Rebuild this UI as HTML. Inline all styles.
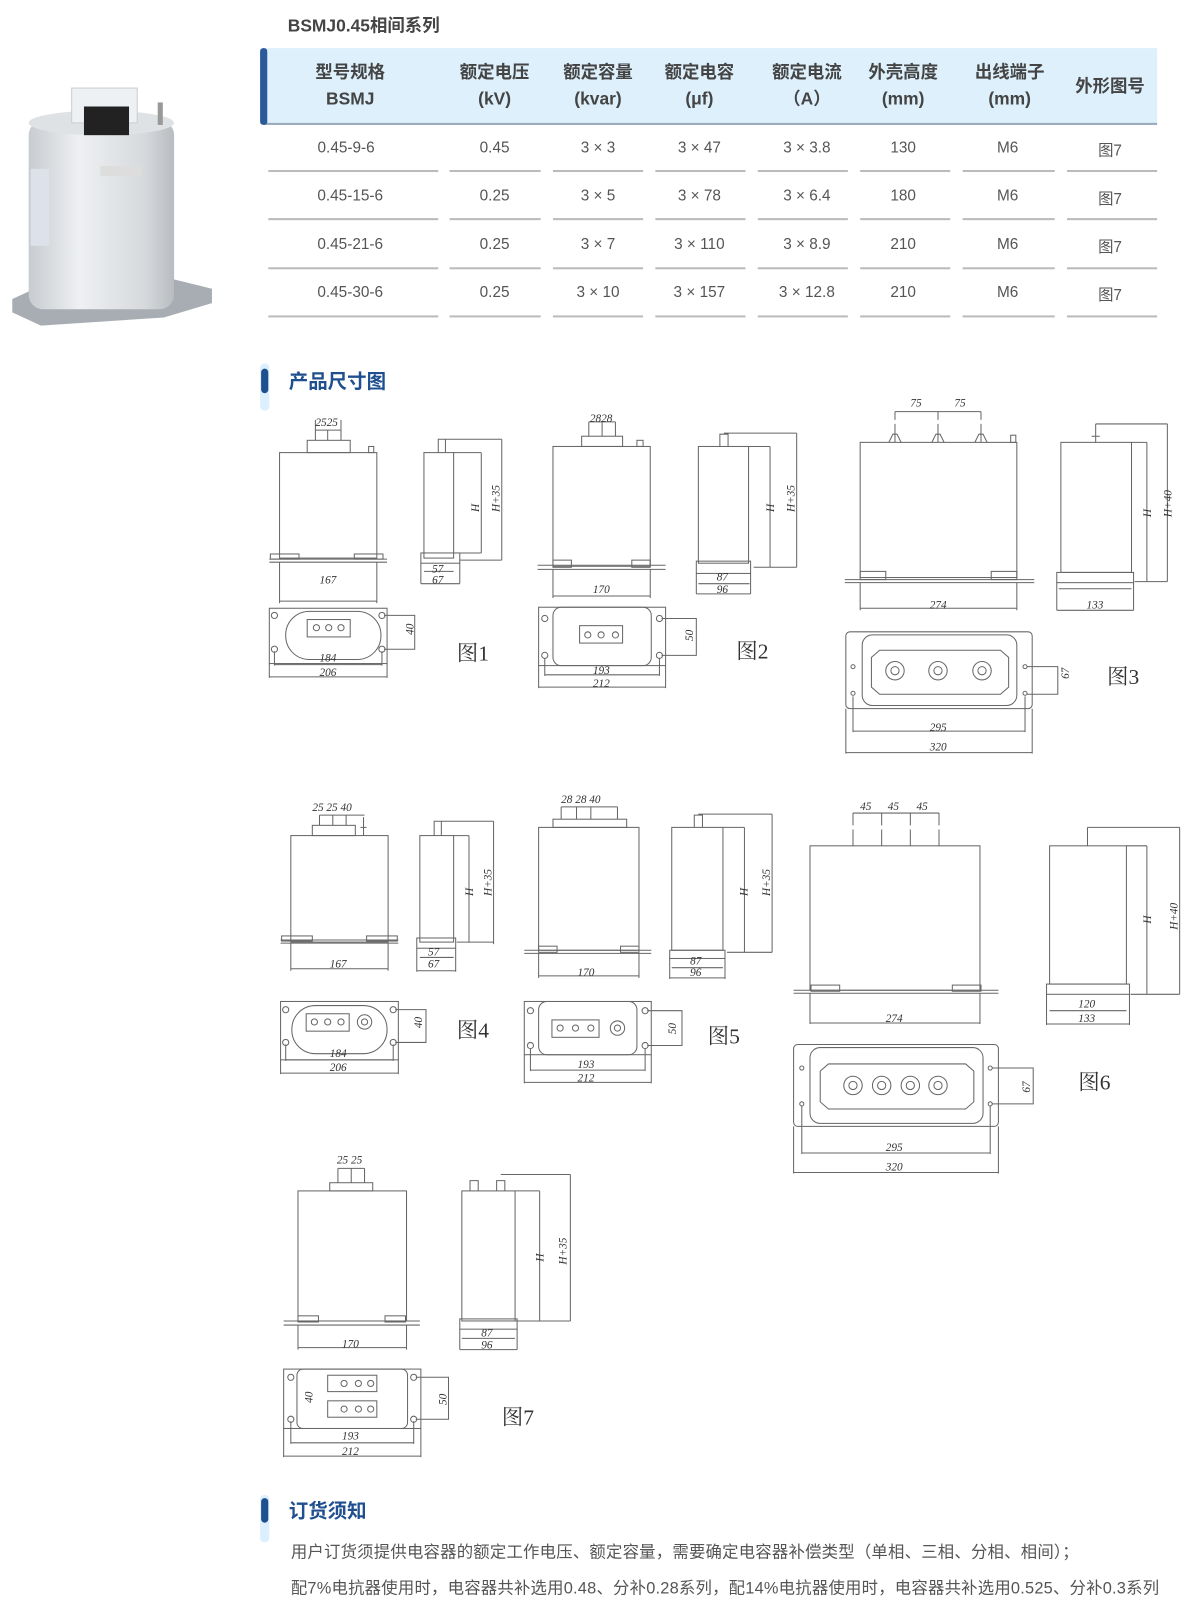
<!DOCTYPE html>
<html><head><meta charset="utf-8">
<style>
body{margin:0;background:#fff;}
#o{width:1200px;height:1606px;overflow:hidden;position:relative;}
#p{position:absolute;left:0;top:0;width:1172px;height:1568px;transform:scale(1.024);transform-origin:0 0;font-family:"Liberation Sans","Noto Sans CJK SC",sans-serif;}
.a{position:absolute;}
.th{position:absolute;top:58px;width:110px;text-align:center;font-weight:bold;font-size:17px;color:#444;line-height:26px;}
.td{position:absolute;width:110px;text-align:center;font-size:15px;color:#555;}
.ln{position:absolute;height:2px;background:#bbb;}
.sec{position:absolute;left:282px;font-size:19px;font-weight:bold;color:#1f4f8f;}
.bar{position:absolute;left:255px;width:7px;height:24px;background:#1f4f8f;border-radius:4px;}
.bar2{position:absolute;left:254px;width:9px;height:46px;background:#dcefff;border-radius:4px;}
.tx{position:absolute;left:284px;font-size:16px;letter-spacing:0.2px;color:#555;white-space:nowrap;}
svg text{font-family:"Liberation Serif",serif;font-style:italic;font-size:11px;fill:#333;}
svg text.f{font-style:normal;font-size:21px;font-family:"Liberation Serif","Noto Serif CJK SC",serif;}
</style></head><body><div id="o"><div id="p">
<div class="a" style="left:281px;top:11px;font-size:17px;font-weight:bold;color:#444">BSMJ0.45相间系列</div>
<div class="a" style="left:258px;top:47px;width:872px;height:73px;background:#ddf0fb;border-bottom:2px solid #9ab"></div>
<div class="a" style="left:254px;top:47px;width:7px;height:75px;background:#2a5a9a;border-radius:3px"></div>
<div class="th" style="left:287px">型号规格<br>BSMJ</div>
<div class="th" style="left:428px">额定电压<br>(kV)</div>
<div class="th" style="left:529px">额定容量<br>(kvar)</div>
<div class="th" style="left:628px">额定电容<br>(μf)</div>
<div class="th" style="left:733px">额定电流<br>（A）</div>
<div class="th" style="left:827px">外壳高度<br>(mm)</div>
<div class="th" style="left:931px">出线端子<br>(mm)</div>
<div class="th" style="left:1029px;top:72px">外形图号</div>

<div class="td" style="left:283px;top:136px">0.45-9-6</div><div class="td" style="left:428px;top:136px">0.45</div><div class="td" style="left:529px;top:136px">3 × 3</div><div class="td" style="left:628px;top:136px">3 × 47</div><div class="td" style="left:733px;top:136px">3 × 3.8</div><div class="td" style="left:827px;top:136px">130</div><div class="td" style="left:929px;top:136px">M6</div><div class="td" style="left:1029px;top:136px">图7</div>
<div class="td" style="left:287px;top:183px">0.45-15-6</div><div class="td" style="left:428px;top:183px">0.25</div><div class="td" style="left:529px;top:183px">3 × 5</div><div class="td" style="left:628px;top:183px">3 × 78</div><div class="td" style="left:733px;top:183px">3 × 6.4</div><div class="td" style="left:827px;top:183px">180</div><div class="td" style="left:929px;top:183px">M6</div><div class="td" style="left:1029px;top:183px">图7</div>
<div class="td" style="left:287px;top:230px">0.45-21-6</div><div class="td" style="left:428px;top:230px">0.25</div><div class="td" style="left:529px;top:230px">3 × 7</div><div class="td" style="left:628px;top:230px">3 × 110</div><div class="td" style="left:733px;top:230px">3 × 8.9</div><div class="td" style="left:827px;top:230px">210</div><div class="td" style="left:929px;top:230px">M6</div><div class="td" style="left:1029px;top:230px">图7</div>
<div class="td" style="left:287px;top:277px">0.45-30-6</div><div class="td" style="left:428px;top:277px">0.25</div><div class="td" style="left:529px;top:277px">3 × 10</div><div class="td" style="left:628px;top:277px">3 × 157</div><div class="td" style="left:733px;top:277px">3 × 12.8</div><div class="td" style="left:827px;top:277px">210</div><div class="td" style="left:929px;top:277px">M6</div><div class="td" style="left:1029px;top:277px">图7</div>

<div class="ln" style="left:262px;width:166px;top:166px"></div><div class="ln" style="left:439px;width:89px;top:166px"></div><div class="ln" style="left:540px;width:88px;top:166px"></div><div class="ln" style="left:640px;width:88px;top:166px"></div><div class="ln" style="left:740px;width:88px;top:166px"></div><div class="ln" style="left:840px;width:88px;top:166px"></div><div class="ln" style="left:940px;width:90px;top:166px"></div><div class="ln" style="left:1042px;width:88px;top:166px"></div>
<div class="ln" style="left:262px;width:166px;top:213px"></div><div class="ln" style="left:439px;width:89px;top:213px"></div><div class="ln" style="left:540px;width:88px;top:213px"></div><div class="ln" style="left:640px;width:88px;top:213px"></div><div class="ln" style="left:740px;width:88px;top:213px"></div><div class="ln" style="left:840px;width:88px;top:213px"></div><div class="ln" style="left:940px;width:90px;top:213px"></div><div class="ln" style="left:1042px;width:88px;top:213px"></div>
<div class="ln" style="left:262px;width:166px;top:261px"></div><div class="ln" style="left:439px;width:89px;top:261px"></div><div class="ln" style="left:540px;width:88px;top:261px"></div><div class="ln" style="left:640px;width:88px;top:261px"></div><div class="ln" style="left:740px;width:88px;top:261px"></div><div class="ln" style="left:840px;width:88px;top:261px"></div><div class="ln" style="left:940px;width:90px;top:261px"></div><div class="ln" style="left:1042px;width:88px;top:261px"></div>
<div class="ln" style="left:262px;width:166px;top:308px"></div><div class="ln" style="left:439px;width:89px;top:308px"></div><div class="ln" style="left:540px;width:88px;top:308px"></div><div class="ln" style="left:640px;width:88px;top:308px"></div><div class="ln" style="left:740px;width:88px;top:308px"></div><div class="ln" style="left:840px;width:88px;top:308px"></div><div class="ln" style="left:940px;width:90px;top:308px"></div><div class="ln" style="left:1042px;width:88px;top:308px"></div>

<svg class="a" style="left:0;top:0" width="230" height="330">
<defs><linearGradient id="g" x1="0" x2="1"><stop offset="0" stop-color="#c8ccd0"/><stop offset="0.35" stop-color="#eef0f2"/><stop offset="0.8" stop-color="#d6d9dc"/><stop offset="1" stop-color="#b8bcc0"/></linearGradient></defs>
<polygon points="12,292 60,270 150,268 207,282 207,296 160,310 40,318 12,305" fill="#a8adb3"/>
<rect x="28" y="118" width="142" height="184" rx="14" fill="url(#g)"/>
<ellipse cx="99" cy="120" rx="71" ry="12" fill="#dfe2e5"/>
<rect x="70" y="86" width="64" height="34" fill="#eef1f4" stroke="#ccc"/>
<rect x="82" y="104" width="44" height="28" fill="#222"/>
<rect x="154" y="100" width="5" height="22" fill="#999"/>
<rect x="30" y="165" width="18" height="75" fill="#dde2ea"/>
<rect x="98" y="162" width="40" height="10" fill="#ddd"/>
</svg>

<div class="bar2" style="top:355px"></div><div class="bar" style="top:360px"></div>
<div class="sec" style="top:358px">产品尺寸图</div>
<div class="bar2" style="top:1460px"></div><div class="bar" style="top:1463px"></div>
<div class="sec" style="top:1461px">订货须知</div>
<div class="tx" style="top:1502px">用户订货须提供电容器的额定工作电压、额定容量，需要确定电容器补偿类型（单相、三相、分相、相间）；</div>
<div class="tx" style="top:1537px">配7%电抗器使用时，电容器共补选用0.48、分补0.28系列，配14%电抗器使用时，电容器共补选用0.525、分补0.3系列</div>

<svg class="a" style="left:0;top:0" width="1200" height="1606" fill="none" stroke="#666" stroke-width="1">
<rect x="273" y="442" width="95" height="103"/><rect x="300" y="430" width="42" height="12"/>
<path d="M308 430v-10M320 430v-10M333 430v-10M308 420h25M308 410v10M333 410v10"/><rect x="360" y="436" width="5" height="6"/>
<path d="M263 546h115M263 549h115M273 549v40M368 549v40M273 587h95"/>
<rect x="264" y="541" width="28" height="5"/><rect x="346" y="541" width="28" height="5"/>
<rect x="414" y="442" width="29" height="103"/><path d="M428 442v-13h7v13M435 429h55M443 442h27M470 442v98M490 429v118M449 540h21M449 547h41"/>
<rect x="411" y="540" width="38" height="10"/><path d="M411 550v20M449 550v20M414 558h29M411 570h38"/>
<rect x="263" y="594" width="115" height="54"/><rect x="279" y="597" width="93" height="47" rx="23"/>
<rect x="300" y="605" width="42" height="17"/><circle cx="309" cy="613" r="3"/><circle cx="321" cy="613" r="3"/><circle cx="333" cy="613" r="3"/>
<circle cx="268" cy="601" r="3"/><circle cx="268" cy="634" r="3"/><circle cx="373" cy="601" r="3"/><circle cx="373" cy="634" r="3"/>
<path d="M375 601h30v33h-30M268 636v14M373 636v14M268 649h105M263 648v14M378 648v14M263 661h115"/>
<rect x="540" y="436" width="95" height="117"/><rect x="568" y="426" width="40" height="10"/>
<path d="M575 426v-14M588 426v-14M601 426v-14M575 412h26"/><rect x="622" y="430" width="6" height="6"/>
<path d="M525 552h125M525 556h125M540 556v28M635 556v28M540 582h95"/>
<rect x="540" y="547" width="18" height="7"/><rect x="617" y="547" width="18" height="7"/>
<rect x="682" y="436" width="49" height="114"/><path d="M703 436v-12h8v12M707 423h71M731 436h21M752 436v118M778 423v131M736 554h42"/>
<rect x="680" y="548" width="53" height="12"/><path d="M680 560v20M733 560v20M682 570h50M680 580h53"/>
<rect x="526" y="593" width="124" height="57"/><rect x="540" y="593" width="96" height="57" rx="8"/>
<rect x="566" y="611" width="42" height="17"/><circle cx="574" cy="620" r="3"/><circle cx="587" cy="620" r="3"/><circle cx="601" cy="620" r="3"/>
<circle cx="532" cy="604" r="3"/><circle cx="532" cy="640" r="3"/><circle cx="644" cy="604" r="3"/><circle cx="644" cy="640" r="3"/>
<path d="M646 604h34v36h-34M532 643v17M644 643v17M532 659h112M526 650v22M650 650v22M526 671h124"/>
<rect x="840" y="432" width="153" height="132"/>
<path d="M874 432v-18M916 432v-18M958 432v-18M874 410v-8M916 410v-8M958 410v-8M874 402h84M868 432l4-8h4l4 8M910 432l4-8h4l4 8M952 432l4-8h4l4 8"/>
<rect x="987" y="425" width="5" height="7"/>
<path d="M825 566h185M825 569h185M840 569v27M993 569v27M840 594h153"/>
<rect x="840" y="558" width="25" height="8"/><rect x="968" y="558" width="25" height="8"/>
<rect x="1036" y="432" width="69" height="127"/><path d="M1070 432v-18M1066 426h8M1070 414h70M1105 432h15M1120 432v136M1140 414v154M1108 568h32"/>
<rect x="1032" y="559" width="75" height="10"/><path d="M1032 569v27M1107 569v27M1034 575h71M1032 596h75"/>
<rect x="826" y="617" width="182" height="75" rx="4"/><rect x="842" y="620" width="151" height="69" rx="10"/>
<path d="M851 642l8 -7h118l8 7v29l-8 7h-118l-8-7z"/>
<circle cx="874" cy="655" r="9"/><circle cx="874" cy="655" r="4"/><circle cx="916" cy="655" r="9"/><circle cx="916" cy="655" r="4"/><circle cx="959" cy="655" r="9"/><circle cx="959" cy="655" r="4"/>
<circle cx="833" cy="651" r="2"/><circle cx="833" cy="677" r="2"/><circle cx="1001" cy="651" r="2"/><circle cx="1001" cy="677" r="2"/>
<path d="M1003 651h30v27h-30M833 680v35M1001 680v35M833 714h168M826 692v44M1008 692v44M826 735h182"/>
<rect x="284" y="816" width="95" height="104"/><rect x="305" y="806" width="42" height="10"/>
<path d="M312 806v-10M325 806v-10M338 806v-10M312 796h44M355 816v-18M352 808h6"/>
<path d="M274 918h115M274 921h115M284 921v27M379 921v27M284 946h95"/>
<rect x="275" y="914" width="30" height="5"/><rect x="358" y="914" width="30" height="5"/>
<rect x="410" y="816" width="33" height="104"/><path d="M424 816v-14h7v14M427 802h55M443 816h15M458 816v104M482 802v120M446 920h36"/>
<rect x="407" y="916" width="38" height="10"/><path d="M407 926v23M445 926v23M410 935h33M407 948h38"/>
<rect x="274" y="978" width="115" height="57"/><rect x="285" y="982" width="93" height="47" rx="23"/>
<rect x="299" y="990" width="42" height="17"/><circle cx="307" cy="998" r="3"/><circle cx="320" cy="998" r="3"/><circle cx="333" cy="998" r="3"/><circle cx="356" cy="998" r="7"/><circle cx="356" cy="998" r="3"/>
<circle cx="279" cy="986" r="3"/><circle cx="279" cy="1018" r="3"/><circle cx="384" cy="986" r="3"/><circle cx="384" cy="1018" r="3"/>
<path d="M386 986h30v32h-30M279 1020v16M384 1020v16M279 1035h105M274 1035v14M389 1035v14M274 1048h115"/>
<rect x="526" y="808" width="98" height="120"/><rect x="540" y="800" width="72" height="8"/>
<path d="M548 800v-12M563 800v-12M577 800v-12M548 788h55M603 800v-12"/>
<path d="M512 928h124M512 931h124M526 931v24M624 931v24M526 953h98"/>
<rect x="526" y="924" width="18" height="6"/><rect x="606" y="924" width="18" height="6"/>
<rect x="656" y="808" width="50" height="120"/><path d="M678 808v-12h8v12M682 795h72M706 808h21M727 808v122M754 795v135M710 930h44"/>
<rect x="654" y="928" width="54" height="8"/><path d="M654 936v20M708 936v20M656 945h50M654 955h54"/>
<rect x="512" y="978" width="124" height="52"/><rect x="526" y="978" width="96" height="52" rx="8"/>
<rect x="539" y="996" width="46" height="17"/><circle cx="547" cy="1004" r="3"/><circle cx="562" cy="1004" r="3"/><circle cx="577" cy="1004" r="3"/><circle cx="603" cy="1004" r="7"/><circle cx="603" cy="1004" r="3"/>
<circle cx="518" cy="987" r="3"/><circle cx="518" cy="1021" r="3"/><circle cx="630" cy="987" r="3"/><circle cx="630" cy="1021" r="3"/>
<path d="M632 987h34v34h-34M518 1024v22M630 1024v22M518 1045h112M512 1030v28M636 1030v28M512 1057h124"/>
<rect x="791" y="826" width="166" height="141"/>
<path d="M833 826v-16M861 826v-16M889 826v-16M917 826v-16M833 806v-12M861 806v-12M889 806v-12M917 806v-12M833 794h84"/>
<path d="M775 967h200M775 970h200M791 970v30M957 970v30M791 999h166"/>
<rect x="792" y="962" width="28" height="6"/><rect x="930" y="962" width="28" height="6"/>
<rect x="1025" y="826" width="75" height="135"/><path d="M1062 826v-18M1062 808h90M1100 826h20M1120 826v145M1152 808v163M1104 971h48"/>
<rect x="1022" y="961" width="81" height="10"/><path d="M1022 971v30M1103 971v30M1025 987h75M1022 1000h81"/>
<rect x="775" y="1020" width="200" height="80" rx="4"/><rect x="791" y="1023" width="169" height="74" rx="10"/>
<path d="M801 1046l8-7h134l8 7v30l-8 7h-134l-8-7z"/>
<circle cx="833" cy="1060" r="9"/><circle cx="833" cy="1060" r="4"/><circle cx="861" cy="1060" r="9"/><circle cx="861" cy="1060" r="4"/><circle cx="889" cy="1060" r="9"/><circle cx="889" cy="1060" r="4"/><circle cx="916" cy="1060" r="9"/><circle cx="916" cy="1060" r="4"/>
<circle cx="783" cy="1043" r="2"/><circle cx="783" cy="1078" r="2"/><circle cx="967" cy="1043" r="2"/><circle cx="967" cy="1078" r="2"/>
<path d="M969 1043h40v35h-40M783 1080v47M967 1080v47M783 1126h184M775 1100v46M975 1100v46M775 1145h200"/>
<rect x="291" y="1163" width="106" height="127"/><rect x="322" y="1155" width="42" height="8"/>
<path d="M330 1155v-14M343 1155v-14M356 1155v-14M330 1141h26"/>
<path d="M277 1290h133M277 1294h133M291 1294v24M397 1294v24M291 1316h106"/>
<rect x="291" y="1285" width="20" height="6"/><rect x="376" y="1285" width="20" height="6"/>
<rect x="451" y="1163" width="52" height="127"/><path d="M459 1163v-10h8v10M485 1163v-10h8v10M489 1147h68M503 1163h24M527 1163v127M557 1147v143M503 1290h54"/>
<rect x="449" y="1288" width="56" height="10"/><path d="M449 1298v20M505 1298v20M451 1307h52M449 1318h56"/>
<rect x="277" y="1337" width="134" height="58"/><rect x="290" y="1337" width="108" height="58" rx="6"/>
<rect x="320" y="1343" width="48" height="16"/><rect x="320" y="1368" width="48" height="16"/>
<circle cx="336" cy="1351" r="3"/><circle cx="350" cy="1351" r="3"/><circle cx="362" cy="1351" r="3"/><circle cx="336" cy="1376" r="3"/><circle cx="350" cy="1376" r="3"/><circle cx="362" cy="1376" r="3"/>
<circle cx="284" cy="1345" r="3"/><circle cx="284" cy="1386" r="3"/><circle cx="404" cy="1345" r="3"/><circle cx="404" cy="1386" r="3"/>
<path d="M406 1345h32v41h-32M284 1388v22M404 1388v22M284 1409h120M277 1395v28M411 1395v28M277 1422h134"/>
<g stroke="none">
<text x="308" y="416">2525</text><text x="312" y="570">167</text><text x="422" y="559">57</text><text x="422" y="570">67</text>
<text x="312" y="646">184</text><text x="312" y="660">206</text>
<text x="468" y="500" transform="rotate(-90 468 500)">H</text><text x="488" y="500" transform="rotate(-90 488 500)">H+35</text>
<text x="404" y="620" transform="rotate(-90 404 620)">40</text><text class="f" x="446" y="645">图1</text>
<text x="576" y="412">2828</text><text x="579" y="579">170</text><text x="700" y="567">87</text><text x="700" y="579">96</text>
<text x="579" y="658">193</text><text x="579" y="671">212</text>
<text x="756" y="500" transform="rotate(-90 756 500)">H</text><text x="776" y="500" transform="rotate(-90 776 500)">H+35</text>
<text x="677" y="626" transform="rotate(-90 677 626)">50</text><text class="f" x="719" y="643">图2</text>
<text x="889" y="397">75</text><text x="932" y="397">75</text><text x="908" y="594">274</text><text x="1061" y="594">133</text>
<text x="908" y="714">295</text><text x="908" y="733">320</text>
<text x="1124" y="505" transform="rotate(-90 1124 505)">H</text><text x="1144" y="505" transform="rotate(-90 1144 505)">H+40</text>
<text x="1044" y="663" transform="rotate(-90 1044 663)">67</text><text class="f" x="1081" y="668">图3</text>
<text x="305" y="792">25 25  40</text><text x="322" y="945">167</text><text x="418" y="933">57</text><text x="418" y="945">67</text>
<text x="322" y="1032">184</text><text x="322" y="1046">206</text>
<text x="462" y="875" transform="rotate(-90 462 875)">H</text><text x="480" y="875" transform="rotate(-90 480 875)">H+35</text>
<text x="412" y="1004" transform="rotate(-90 412 1004)">40</text><text class="f" x="446" y="1013">图4</text>
<text x="548" y="784">28 28  40</text><text x="564" y="953">170</text><text x="674" y="942">87</text><text x="674" y="953">96</text>
<text x="564" y="1043">193</text><text x="564" y="1056">212</text>
<text x="730" y="875" transform="rotate(-90 730 875)">H</text><text x="752" y="875" transform="rotate(-90 752 875)">H+35</text>
<text x="660" y="1010" transform="rotate(-90 660 1010)">50</text><text class="f" x="691" y="1019">图5</text>
<text x="840" y="791">45</text><text x="867" y="791">45</text><text x="895" y="791">45</text><text x="865" y="998">274</text>
<text x="1053" y="984">120</text><text x="1053" y="998">133</text><text x="865" y="1124">295</text><text x="865" y="1143">320</text>
<text x="1124" y="902" transform="rotate(-90 1124 902)">H</text><text x="1150" y="908" transform="rotate(-90 1150 908)">H+40</text>
<text x="1006" y="1067" transform="rotate(-90 1006 1067)">67</text><text class="f" x="1053" y="1064">图6</text>
<text x="329" y="1136">25 25</text><text x="334" y="1316">170</text><text x="470" y="1305">87</text><text x="470" y="1317">96</text>
<text x="334" y="1406">193</text><text x="334" y="1421">212</text>
<text x="531" y="1232" transform="rotate(-90 531 1232)">H</text><text x="553" y="1235" transform="rotate(-90 553 1235)">H+35</text>
<text x="436" y="1372" transform="rotate(-90 436 1372)">50</text><text x="305" y="1370" transform="rotate(-90 305 1370)">40</text>
<text class="f" x="490" y="1391">图7</text>
</g>
</svg>
</div></div></body></html>
